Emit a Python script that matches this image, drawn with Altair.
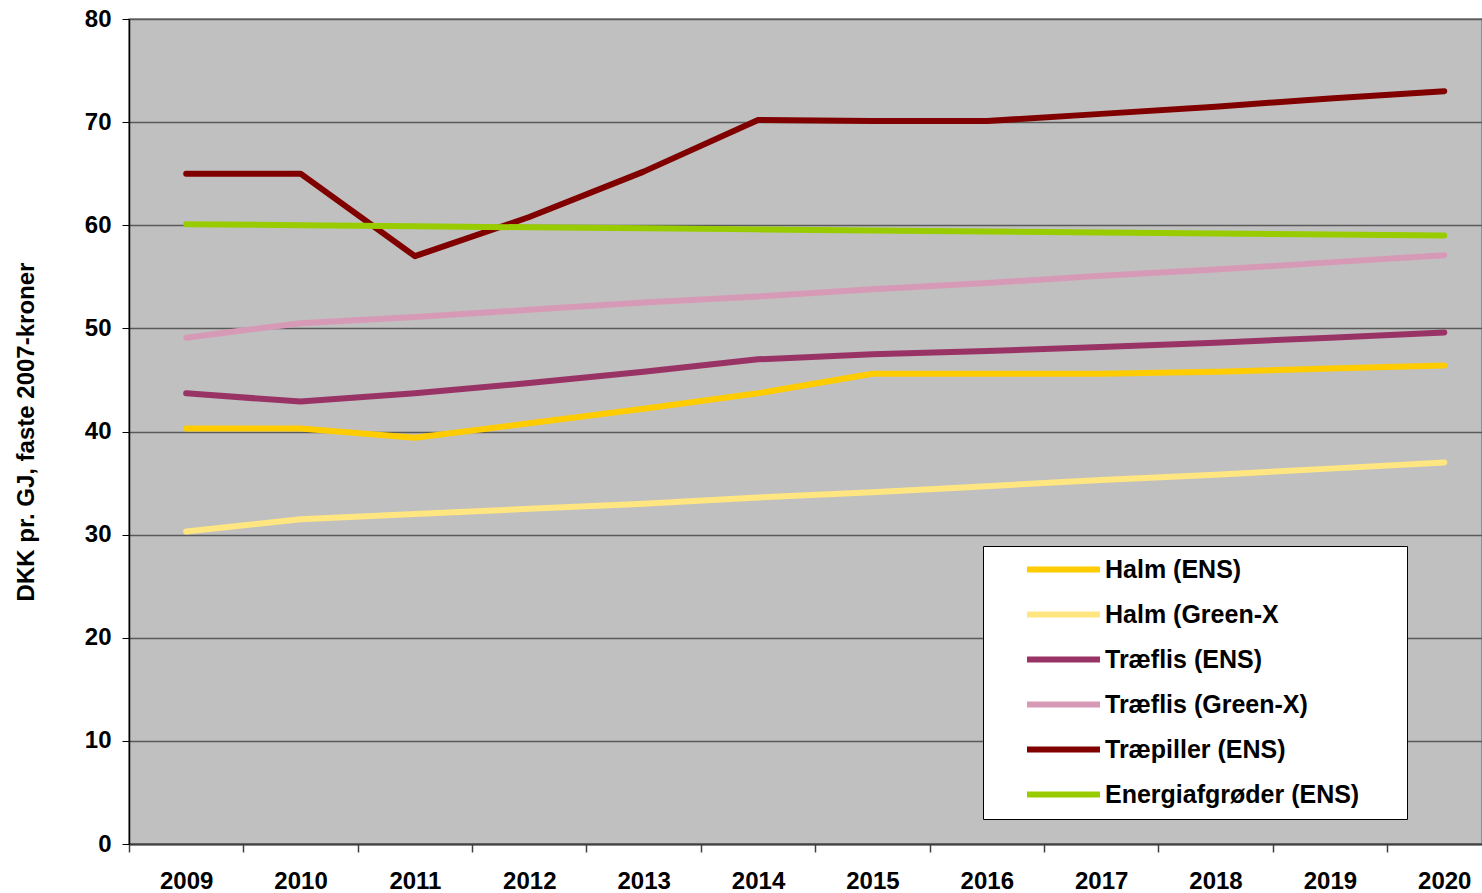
import altair as alt
import pandas as pd

years = list(range(2009, 2021))
series = ["Halm (ENS)", "Halm (Green-X", "Træflis (ENS)", "Træflis (Green-X)",
          "Træpiller (ENS)", "Energiafgrøder (ENS)"]
colors = ["#FFCC00", "#FFE680", "#993366", "#D69AB7", "#800000", "#99CC00"]

halm_ens = [40.3, 40.3, 39.4, 40.8, 42.2, 43.7, 45.6, 45.6, 45.6, 45.8, 46.1, 46.4]
halm_gx = [30.3, 31.5, 32.0, 32.5, 33.0, 33.6, 34.1, 34.7, 35.3, 35.8, 36.4, 37.0]
traeflis_ens = [43.7, 42.9, 43.7, 44.7, 45.8, 47.0, 47.5, 47.8, 48.2, 48.6, 49.1, 49.6]
traeflis_gx = [49.1, 50.5, 51.1, 51.8, 52.5, 53.1, 53.8, 54.4, 55.1, 55.7, 56.4, 57.1]
traepiller_ens = [65.0, 65.0, 57.0, 60.8, 65.2, 70.2, 70.1, 70.1, 70.8, 71.5, 72.3, 73.0]
energi_ens = [60.1, 60.0, 59.9, 59.8, 59.7, 59.6, 59.5, 59.4, 59.3, 59.2, 59.1, 59.0]

values = [halm_ens, halm_gx, traeflis_ens, traeflis_gx, traepiller_ens, energi_ens]
tick_bounds = [y - 0.5 for y in years]

rows = []
for s, vals in zip(series, values):
    for yr, v in zip(years, vals):
        rows.append({"year": yr, "value": v, "series": s})
df = pd.DataFrame(rows)

FONT = "Liberation Sans"
xscale = alt.Scale(domain=[2008.5, 2020.33], nice=False, zero=False)

lines = alt.Chart(df).mark_line(strokeWidth=6, strokeCap="round", strokeJoin="round").encode(
    x=alt.X("year:Q", scale=xscale,
            axis=alt.Axis(values=years, format="d", ticks=False, grid=False, domain=True,
                          domainColor="#404040", domainWidth=2, labelFont=FONT, labelFontSize=24,
                          labelFontWeight="bold", labelColor="black", labelPadding=25,
                          orient="bottom", title=None, labelFlush=False, labelOverlap=False)),
    y=alt.Y("value:Q", scale=alt.Scale(domain=[0, 80], nice=False),
            axis=alt.Axis(values=list(range(0, 81, 10)), grid=True, gridColor="#5a5a5a",
                          gridWidth=1.3, tickColor="black", tickSize=7, domainColor="black",
                          domainWidth=1.5, labelFont=FONT, labelFontSize=24, labelFontWeight="bold",
                          labelColor="black", labelPadding=11,
                          title="DKK pr. GJ, faste 2007-kroner", titleFont=FONT,
                          titleFontSize=24, titleFontWeight="bold", titleColor="black",
                          titlePadding=46)),
    color=alt.Color("series:N", scale=alt.Scale(domain=series, range=colors),
                    sort=series,
                    legend=alt.Legend(orient="none", legendX=854, legendY=527, title=None,
                                      symbolType="M-4,0H4", symbolSize=333, symbolStrokeWidth=6,
                                      labelFont=FONT, labelFontSize=25, labelFontWeight="bold",
                                      labelColor="black", fillColor="white", strokeColor="#000000",
                                      padding=11, rowPadding=19, symbolOffset=57, labelOffset=29,
                                      labelExpr="datum.label + '\u2800\u2800'",
                                      labelLimit=500)),
    order=alt.Order("series_order:Q"),
).transform_calculate(
    series_order="indexof(" + str(series) + ", datum.series)"
)

ticks = alt.Chart(pd.DataFrame({"b": tick_bounds})).mark_point(opacity=0).encode(
    x=alt.X("b:Q", scale=xscale,
            axis=alt.Axis(values=tick_bounds, labels=False, ticks=True, tickSize=8,
                          tickColor="#404040", tickWidth=1.5, domain=False, grid=False,
                          orient="bottom", title=None)),
    y=alt.value(0),
)

chart = alt.layer(lines, ticks).resolve_axis(x="independent").properties(
    width=1353, height=825,
    autosize=alt.AutoSizeParams(type="none"),
    padding={"left": 129, "top": 19, "right": 0, "bottom": 49},
    background="white",
).configure_view(fill="#C0C0C0", stroke="#808080", strokeWidth=1.5)

chart.save("out.html", embed_options={"renderer": "svg", "actions": False})
